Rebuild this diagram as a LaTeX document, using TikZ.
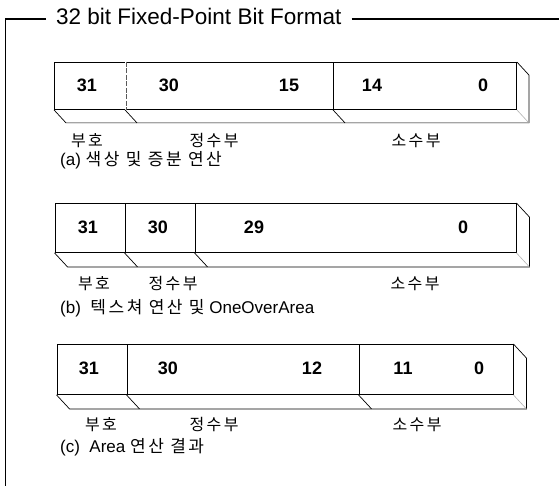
\documentclass[tikz,border=0pt]{standalone}
\usepackage{fontspec}
\setmainfont{Liberation Sans}
\newfontfamily\kr[LetterSpace=15]{Noto Sans CJK KR}
\usetikzlibrary{calc}
\tikzset{
  cell/.style={draw, line width=0.9pt, inner sep=0pt, anchor=north west},
  num/.style={font=\fontsize{18}{18}\selectfont\bfseries, inner sep=0pt},
  lab/.style={font=\kr\fontsize{16}{16}\selectfont, inner sep=0pt},
  captext/.style={font=\fontsize{17}{17}\selectfont, anchor=west, inner sep=0pt},
  depth/.style={line width=0.7pt},
  faint/.style={line width=0.6pt, gray!60},
  frame/.style={line width=1.2pt},
}
\begin{document}
\begin{tikzpicture}[x=1pt,y=-1pt]
\useasboundingbox (0,0) rectangle (559,486);
% frame
\node[font=\fontsize{22.5}{22.5}\selectfont, anchor=base west, inner xsep=10pt, inner ysep=0pt] (title) at (46,25) {32 bit Fixed-Point Bit Format};
\coordinate (fTL) at (5.5,19);
\coordinate (fBL) at (5.5,486);
\coordinate (fTR) at (559,19);
\draw[frame] (title.west |- fTL) -- (fTL) -- (fBL);
\draw[frame] (title.east |- fTR) -- (fTR);

% ---------- (a)
\node[cell, minimum width=71pt,  minimum height=47pt] (a1) at (54,62) {};
\node[cell, minimum width=208pt, minimum height=47pt] (a2) at (125,62) {};
\node[cell, minimum width=183pt, minimum height=47pt] (a3) at (333,62) {};
\draw[white, line width=1.4pt] (a1.north east) -- (a1.south east);
\draw[line width=0.8pt, gray!70!black, dash pattern=on 5pt off 1.5pt] (a1.north east) -- (a1.south east);
\draw[depth] (a1.south west) -- ++(12,13) -- ($(a3.south east)+(12,13)$) -- ($(a3.north east)+(12,13)$) -- (a3.north east);
\draw[depth] (a2.south west) -- ++(12,13);
\draw[depth] (a3.south west) -- ++(12,13);
\draw[faint] (a3.south east) -- ++(12,13);
\node[num] (a31) at (87,85.5) {31};
\node[num] (a30) at (169,85.5) {30};
\node[num] (a15) at (289,85.5) {15};
\node[num] (a14) at (372,85.5) {14};
\node[num] (a0)  at (483,85.5) {0};
\node[lab] (aS) at (87,141) {부호};
\node[lab] (aI) at (214,141) {정수부};
\node[lab] (aF) at (416,141) {소수부};
\node[captext] (acap) at (60,160) {(a)\ {\kr 색상 및 증분 연산}};

% ---------- (b)
\node[cell, minimum width=70pt,  minimum height=49pt] (b1) at (54.5,203) {};
\node[cell, minimum width=70pt,  minimum height=49pt] (b2) at (124.5,203) {};
\node[cell, minimum width=321pt, minimum height=49pt] (b3) at (194.5,203) {};
\draw[depth] (b1.south west) -- ++(13,14) -- ($(b3.south east)+(13,14)$) -- ($(b3.north east)+(13,14)$) -- (b3.north east);
\draw[depth] (b2.south west) -- ++(13,14);
\draw[depth] (b3.south west) -- ++(13,14);
\draw[faint] (b3.south east) -- ++(13,14);
\node[num] (b31) at (88,227.5) {31};
\node[num] (b30) at (158,227.5) {30};
\node[num] (b29) at (254,227.5) {29};
\node[num] (b0)  at (463,227.5) {0};
\node[lab] (bS) at (94,284) {부호};
\node[lab] (bI) at (173,284) {정수부};
\node[lab] (bF) at (415,284) {소수부};
\node[captext] (bcap) at (60,308) {(b) \ {\kr 텍스쳐 연산 및} OneOverArea};

% ---------- (c)
\node[cell, minimum width=70pt,  minimum height=50pt] (c1) at (56.5,344) {};
\node[cell, minimum width=232pt, minimum height=50pt] (c2) at (126.5,344) {};
\node[cell, minimum width=154pt, minimum height=50pt] (c3) at (358.5,344) {};
\draw[depth] (c1.south west) -- ++(13,14) -- ($(c3.south east)+(13,14)$) -- ($(c3.north east)+(13,14)$) -- (c3.north east);
\draw[depth] (c2.south west) -- ++(13,14);
\draw[depth] (c3.south west) -- ++(13,14);
\draw[faint] (c3.south east) -- ++(13,14);
\node[num] (c31) at (89,368) {31};
\node[num] (c30) at (168,368) {30};
\node[num] (c12) at (312,368) {12};
\node[num] (c11) at (403,368) {11};
\node[num] (c0)  at (479,368) {0};
\node[lab] (cS) at (101,425) {부호};
\node[lab] (cI) at (214,425) {정수부};
\node[lab] (cF) at (417,425) {소수부};
\node[captext] (ccap) at (60,447) {(c) \ Area {\kr 연산 결과}};
\end{tikzpicture}
\end{document}
